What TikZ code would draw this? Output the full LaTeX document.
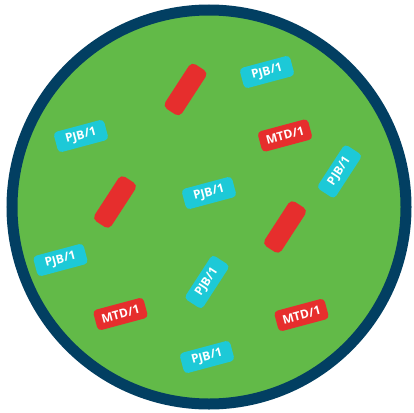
\documentclass[tikz,border=0pt]{standalone}
\usepackage{fontspec}
\setsansfont{Open Sans}
\usepackage{tikz}
\definecolor{dishgreen}{HTML}{62BA48}
\definecolor{dishrim}{HTML}{023F62}
\definecolor{tagcyan}{HTML}{1DC9D7}
\definecolor{tagred}{HTML}{E62E2D}
\tikzset{
  dish/.style={draw=dishrim,line width=11pt,fill=dishgreen},
  tag node/.style={rounded corners=4pt,minimum width=52pt,minimum height=21pt,
    inner sep=0pt,text=white,font=\sffamily\bfseries\fontsize{12}{12}\selectfont},
  pjb tag/.style={tag node,fill=tagcyan},
  mtd tag/.style={tag node,fill=tagred},
  blank tag/.style={rounded corners=5pt,minimum width=53pt,minimum height=20pt,
    inner sep=0pt,fill=tagred,rotate=57},
}

\begin{document}
\begin{tikzpicture}[x=1pt,y=-1pt]
  \useasboundingbox (0,0) rectangle (414,412);
  % The dish with its rim.
  \coordinate (centre) at (209,207);
  \draw[dish] (centre) circle[radius=197pt];

  % Blank red bars.
  \node[blank tag] (blanka) at (185.5,89.5) {};
  \node[blank tag] (blankb) at (115,202) {};
  \node[blank tag] (blankc) at (285,227) {};

  % Labelled tags.
  \node[pjb tag,rotate=15] (pjbtop) at (267,72) {PJB/1};
  \node[pjb tag,rotate=15] (pjbleft) at (81,136) {PJB/1};
  \node[mtd tag,rotate=15] (mtdtop) at (285,135.5) {MTD/1};
  \node[pjb tag,rotate=57] (pjbright) at (339.5,171.5) {PJB/1};
  \node[pjb tag,rotate=15] (pjbmid) at (209,193) {PJB/1};
  \node[pjb tag,rotate=15] (pjblow) at (60.5,260) {PJB/1};
  \node[pjb tag,rotate=57] (pjbsteep) at (207,282) {PJB/1};
  \node[mtd tag,rotate=15] (mtdleft) at (120.5,314) {MTD/1};
  \node[mtd tag,rotate=15] (mtdright) at (301.5,315) {MTD/1};
  \node[pjb tag,rotate=15] (pjbbottom) at (207,357) {PJB/1};
\end{tikzpicture}
\end{document}
